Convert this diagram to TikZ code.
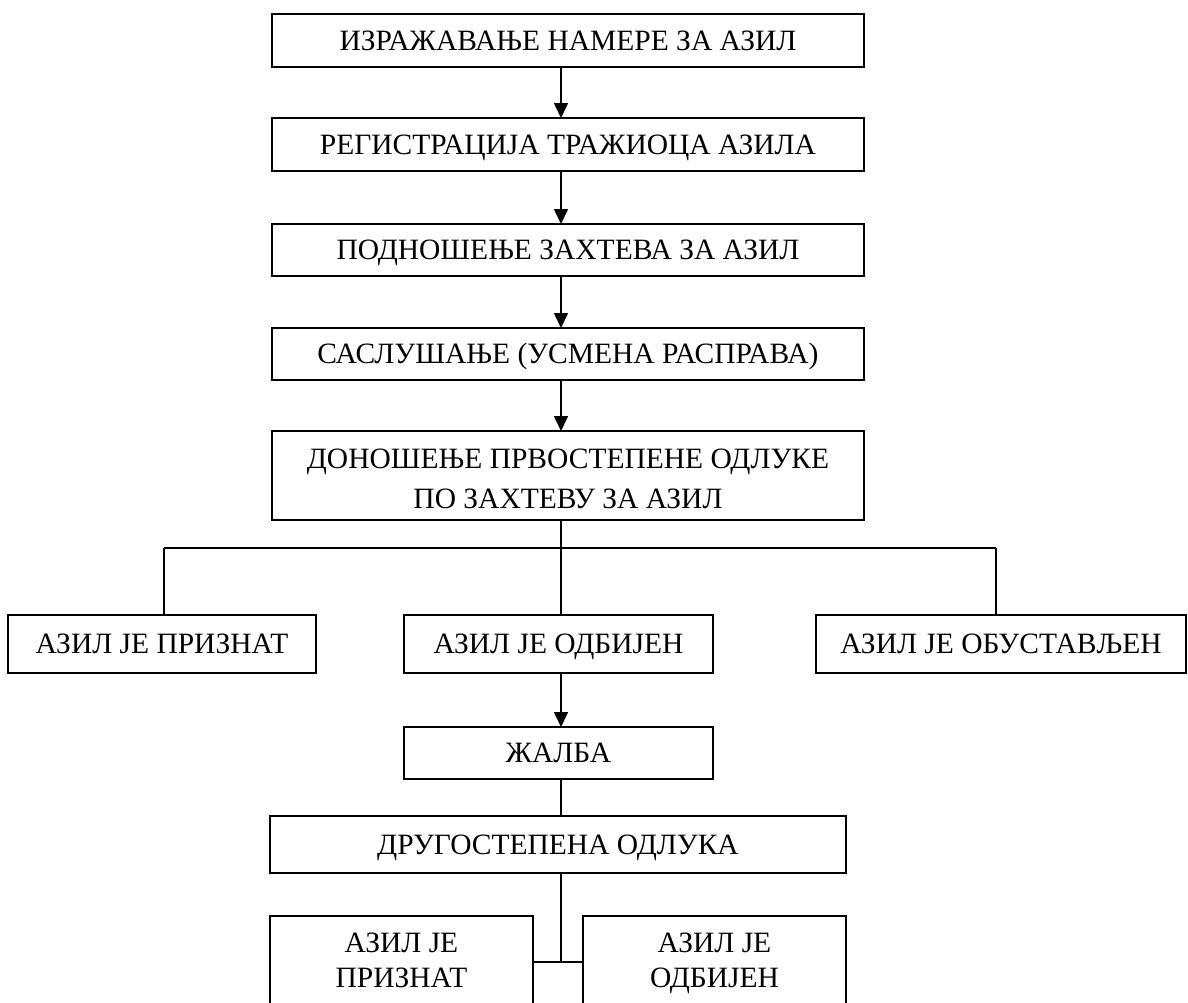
\documentclass[tikz,border=0pt]{standalone}
\usepackage{fontspec}
\setmainfont{Liberation Serif}
\usetikzlibrary{arrows.meta}
\begin{document}
\begin{tikzpicture}[x=1pt,y=-1pt,
  box/.style={draw, line width=1.6pt, rectangle, inner sep=0pt, outer sep=0pt,
    font=\fontsize{29.5}{40}\selectfont, text height=19.5pt, text depth=0pt},
  txt/.style={inner sep=0pt, font=\fontsize{29.5}{40}\selectfont, anchor=base},
  link/.style={line width=1.6pt},
  arr/.style={line width=1.6pt, -{Triangle[width=14pt,length=15pt]}}]
\useasboundingbox (0,0) rectangle (1188,1002);
\coordinate (ax) at (561,0);
% main column
\node[box, minimum width=592pt, minimum height=53pt] (b1) at (568,40.5) {ИЗРАЖАВАЊЕ НАМЕРЕ ЗА АЗИЛ};
\node[box, minimum width=592pt, minimum height=53pt] (b2) at (568,144.5) {РЕГИСТРАЦИЈА ТРАЖИОЦА АЗИЛА};
\node[box, minimum width=592pt, minimum height=52pt] (b3) at (568,250) {ПОДНОШЕЊЕ ЗАХТЕВА ЗА АЗИЛ};
\node[box, minimum width=592pt, minimum height=52pt] (b4) at (568,354) {САСЛУШАЊЕ (УСМЕНА РАСПРАВА)};
\node[box, minimum width=592pt, minimum height=89pt] (b5) at (568,475.5) {};
\node[txt] (b5a) at (568,468) {ДОНОШЕЊЕ ПРВОСТЕПЕНЕ ОДЛУКЕ};
\node[txt] (b5b) at (568,508) {ПО ЗАХТЕВУ ЗА АЗИЛ};
\draw[arr] (b1.south -| ax) -- (b2.north -| ax);
\draw[arr] (b2.south -| ax) -- (b3.north -| ax);
\draw[arr] (b3.south -| ax) -- (b4.north -| ax);
\draw[arr] (b4.south -| ax) -- (b5.north -| ax);
% first decision row
\node[box, minimum width=308pt, minimum height=58pt] (ra) at (162,644) {АЗИЛ ЈЕ ПРИЗНАТ};
\node[box, minimum width=309pt, minimum height=58pt] (rb) at (558.5,644) {АЗИЛ ЈЕ ОДБИЈЕН};
\node[box, minimum width=370pt, minimum height=58pt] (rc) at (1001,644) {АЗИЛ ЈЕ ОБУСТАВЉЕН};
\coordinate (hl) at (164,548);
\coordinate (hm) at (561,548);
\coordinate (hr) at (996,548);
\draw[link] (b5.south -| ax) -- (hm);
\draw[link] (hl) -- (hr);
\draw[link] (hl) -- (hl |- ra.north);
\draw[link] (hm) -- (hm |- rb.north);
\draw[link] (hr) -- (hr |- rc.north);
% appeal
\node[box, minimum width=309pt, minimum height=52pt] (zh) at (558.5,753) {ЖАЛБА};
\draw[arr] (rb.south -| ax) -- (zh.north -| ax);
\node[box, minimum width=576pt, minimum height=57pt] (d2) at (558,844.5) {ДРУГОСТЕПЕНА ОДЛУКА};
\draw[link] (zh.south -| ax) -- (d2.north -| ax);
% second decision
\node[box, minimum width=263pt, minimum height=88pt] (bl) at (401.5,960) {};
\node[txt] (bla) at (401.5,952) {АЗИЛ ЈЕ};
\node[txt] (blb) at (401.5,987) {ПРИЗНАТ};
\node[box, minimum width=263pt, minimum height=88pt] (br) at (714.5,960) {};
\node[txt] (bra) at (714.5,952) {АЗИЛ ЈЕ};
\node[txt] (brb) at (714.5,987) {ОДБИЈЕН};
\coordinate (j) at (561,962);
\draw[link] (d2.south -| ax) -- (j);
\draw[link] (bl.east |- j) -- (br.west |- j);
\end{tikzpicture}
\end{document}
